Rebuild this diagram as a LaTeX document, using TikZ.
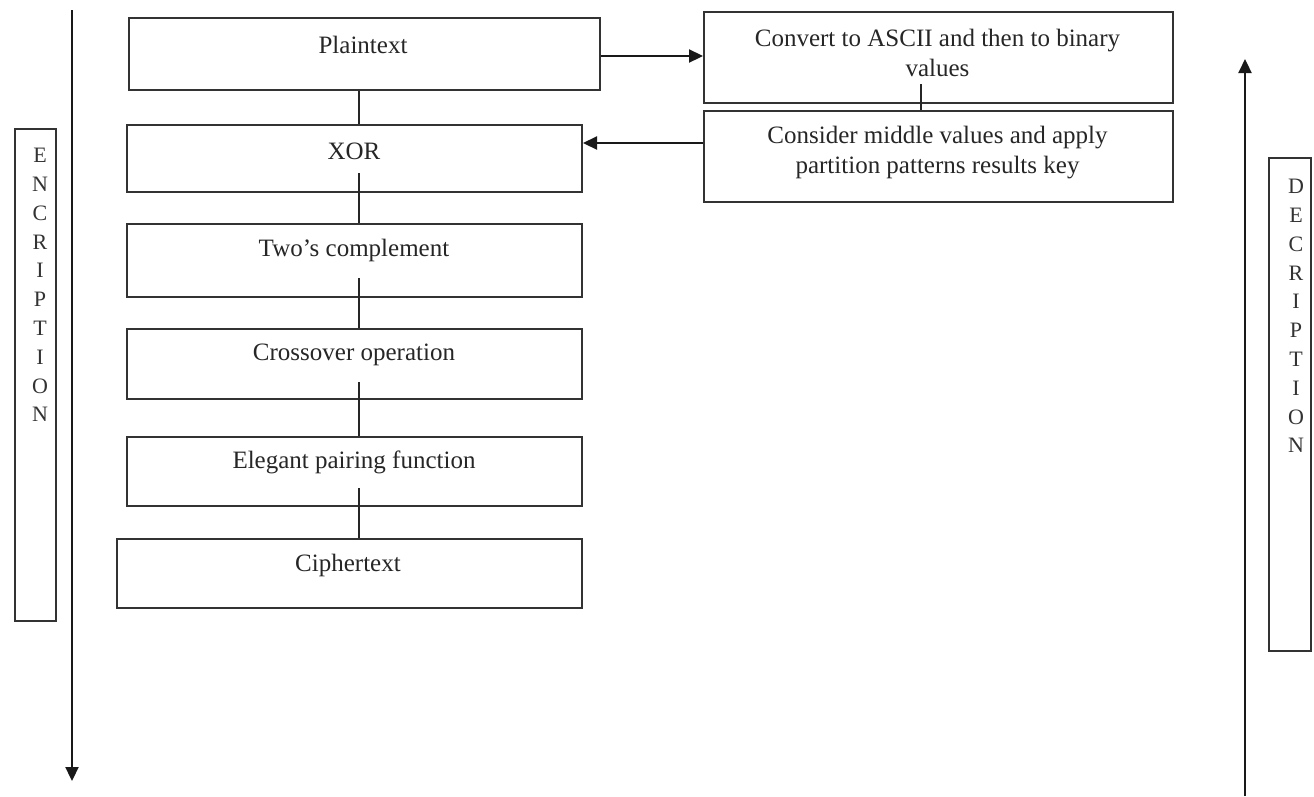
\documentclass[tikz,border=0pt]{standalone}
\usepackage{fontspec}
\setmainfont{Liberation Serif}
\usetikzlibrary{arrows.meta}
\begin{document}
\begin{tikzpicture}[x=1pt,y=-1pt,
  box/.style={draw=black!80,line width=2pt,rectangle,inner sep=0pt,anchor=north west},
  lbl/.style={text=black!85,font=\fontsize{25}{30}\selectfont,align=center,inner sep=0pt},
  vlbl/.style={text=black!80,font=\fontsize{22}{28.8}\selectfont,align=center,inner sep=0pt},
  conn/.style={draw=black!85,line width=2.2pt},
  arr/.style={draw=black!90,line width=2.2pt,-{Triangle[length=14pt,width=13pt]}}]
\useasboundingbox (0,0) rectangle (1314,796);
% boxes
\node[box,minimum width=471pt,minimum height=72pt] (plain) at (128,17) {};
\node[box,minimum width=455pt,minimum height=67pt] (xor) at (126,124) {};
\node[box,minimum width=455pt,minimum height=73pt] (two) at (126,223) {};
\node[box,minimum width=455pt,minimum height=70pt] (cross) at (126,328) {};
\node[box,minimum width=455pt,minimum height=69pt] (eleg) at (126,436) {};
\node[box,minimum width=465pt,minimum height=69pt] (ciph) at (116,538) {};
\node[box,minimum width=469pt,minimum height=91pt] (conv) at (703,11) {};
\node[box,minimum width=469pt,minimum height=91pt] (cons) at (703,110) {};
\node[box,minimum width=41pt,minimum height=492pt] (enc) at (14,128) {};
\node[box,minimum width=42pt,minimum height=493pt] (dec) at (1268,157) {};
% texts
\node[lbl] (plainT) at (363,45) {Plaintext};
\node[lbl] (xorT) at (354,151) {XOR};
\node[lbl] (twoT) at (354,250) {Two’s complement};
\node[lbl] (crossT) at (354,355) {Crossover operation};
\node[lbl] (elegT) at (354,462) {Elegant pairing function};
\node[lbl] (ciphT) at (348,565) {Ciphertext};
\node[lbl] (convT) at (937.5,53) {Convert to ASCII and then to binary\\values};
\node[lbl] (consT) at (937.5,152.5) {Consider middle values and apply\\partition patterns results key};
\node[vlbl] (encT) at (40,285) {E\\N\\C\\R\\I\\P\\T\\I\\O\\N};
\node[vlbl] (decT) at (1296,316) {D\\E\\C\\R\\I\\P\\T\\I\\O\\N};
% connector start points (inside upper boxes)
\coordinate (c2) at (359,173);
\coordinate (c3) at (359,278);
\coordinate (c4) at (359,382);
\coordinate (c5) at (359,488);
\coordinate (c6) at (921,84);
\draw[conn] (plain.south -| c2) -- (xor.north -| c2);
\draw[conn] (c2) -- (two.north -| c2);
\draw[conn] (c3) -- (cross.north -| c3);
\draw[conn] (c4) -- (eleg.north -| c4);
\draw[conn] (c5) -- (ciph.north -| c5);
\draw[conn] (c6) -- (cons.north -| c6);
% horizontal arrows
\draw[arr] (plain.east |- 0,56) -- (conv.west |- 0,56);
\draw[arr] (cons.west |- 0,143) -- (xor.east |- 0,143);
% side arrows
\coordinate (encTop) at (72,10);
\coordinate (encBot) at (72,781);
\coordinate (decBot) at (1245,796);
\coordinate (decTop) at (1245,59);
\draw[arr] (encTop) -- (encBot);
\draw[arr] (decBot) -- (decTop);
\end{tikzpicture}
\end{document}
